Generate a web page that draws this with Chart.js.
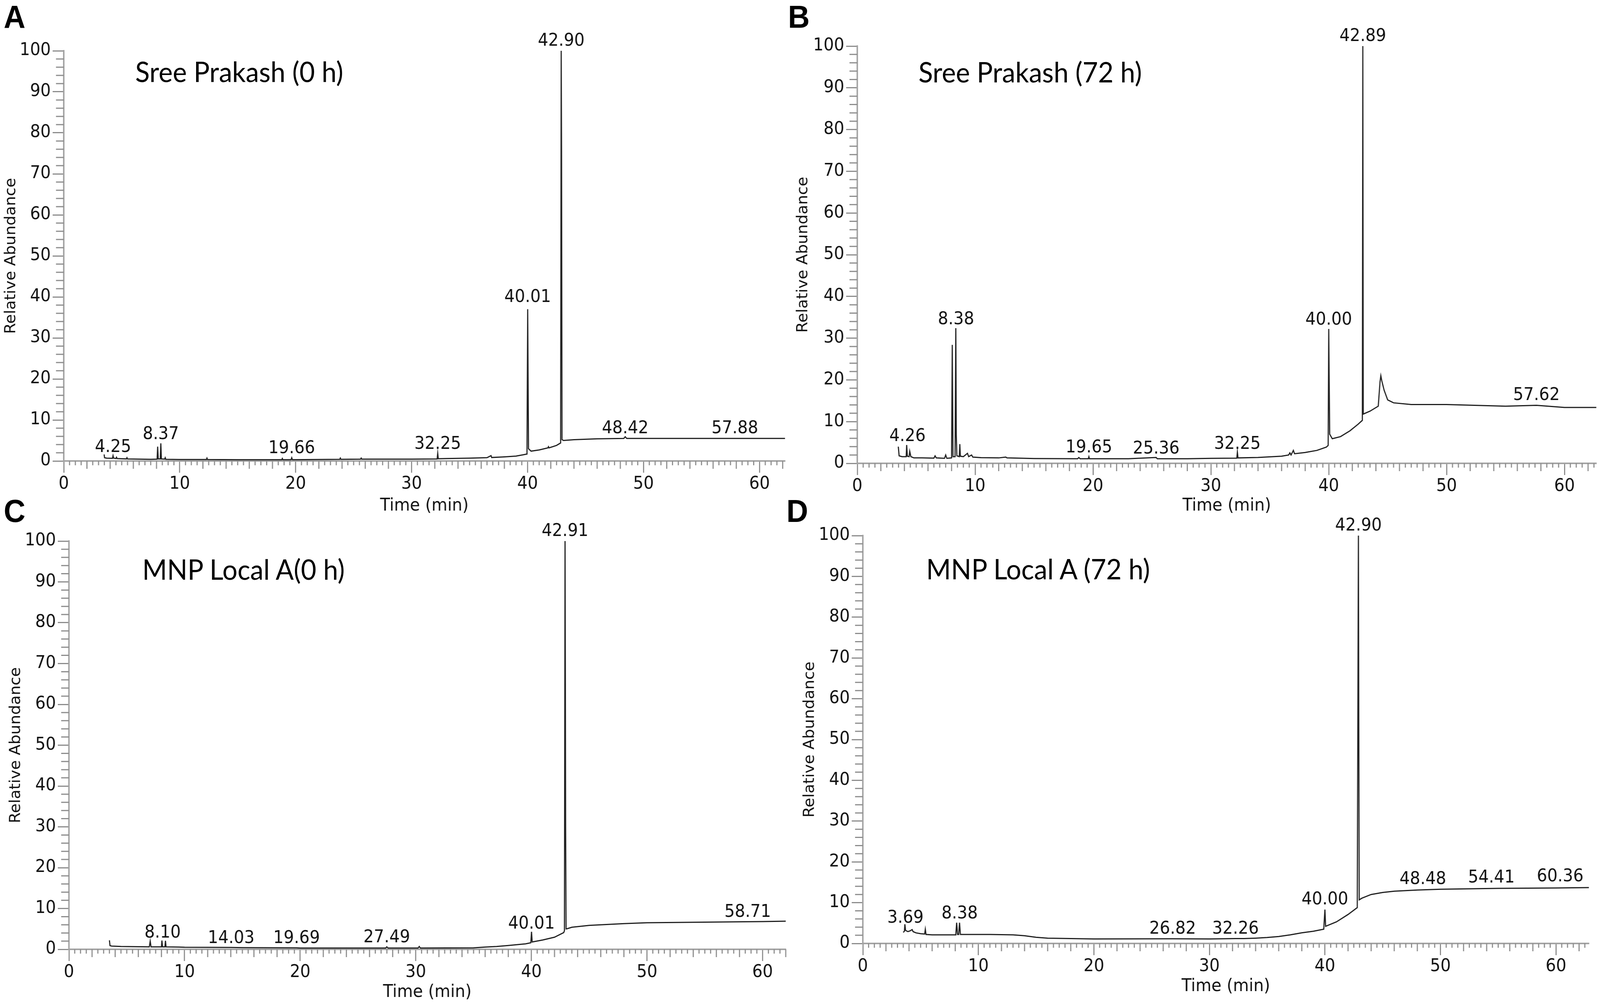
<!DOCTYPE html>
<html>
<head>
<meta charset="utf-8">
<script src="https://cdn.jsdelivr.net/npm/chart.js@4.4.0/dist/chart.umd.min.js"></script>
<style>
  html, body { margin: 0; padding: 0; background: #fff; overflow: hidden; }
  #stage { width: 4317px; height: 2570px; position: absolute; left: 0; top: 0; transform-origin: 0 0; }
  .panel { position: absolute; }
  .letter { position: absolute; font: bold 81px "Liberation Sans", Arial, sans-serif; line-height: 1; color: #000; }
  .title { position: absolute; font: 72px Lato, "Open Sans", sans-serif; line-height: 1.2; color: #000; white-space: nowrap; }
</style>
</head>
<body>
<div id="stage">
<div class="letter" style="left:10px;top:3px">A</div>
<div class="letter" style="left:2126px;top:3px">B</div>
<div class="letter" style="left:10px;top:1268px">C</div>
<div class="letter" style="left:2122px;top:1268px">D</div>

<div class="panel" id="panelA"><canvas id="chartA"></canvas></div>
<div class="panel" id="panelB"><canvas id="chartB"></canvas></div>
<div class="panel" id="panelC"><canvas id="chartC"></canvas></div>
<div class="panel" id="panelD"><canvas id="chartD"></canvas></div>

<div class="title" style="left:365px;top:139px">Sree Prakash (0 h)</div>
<div class="title" style="left:2478px;top:140px">Sree Prakash (72 h)</div>
<div class="title" style="left:384px;top:1413px">MNP Local A(0 h)</div>
<div class="title" style="left:2499px;top:1412px">MNP Local A (72 h)</div>
</div>

<script>
// 色谱数据 [时间(min), 相对丰度]
const traceA = [
  [3.48, 1.6], [3.52, 0.8], [3.7, 0.7], [4.2, 0.65], [4.25, 1.3], [4.3, 0.7], [4.5, 0.6], [4.55, 0.9],
  [4.6, 0.6], [5.0, 0.55], [5.4, 0.5], [5.45, 0.8], [5.5, 0.5], [6.5, 0.45], [7.5, 0.4], [8.05, 0.45],
  [8.1, 3.5], [8.15, 0.5], [8.32, 0.5], [8.37, 4.3], [8.42, 0.5], [8.7, 0.45], [8.75, 0.8], [8.8, 0.4],
  [10, 0.35], [12.3, 0.35], [12.35, 0.7], [12.4, 0.35], [15, 0.3], [18.8, 0.3], [18.85, 0.6], [18.9, 0.3],
  [19.6, 0.3], [19.66, 0.8], [19.72, 0.3], [23.8, 0.4], [23.85, 0.7], [23.9, 0.4], [25.6, 0.45], [25.65, 0.7],
  [25.7, 0.45], [30, 0.45], [32.2, 0.5], [32.25, 1.9], [32.3, 0.55], [33, 0.6], [35, 0.7], [36.5, 0.8],
  [36.85, 1.3], [36.9, 0.85], [38, 1.0], [39, 1.2], [39.6, 1.5], [39.95, 1.7], [40.01, 37], [40.08, 3.0],
  [40.3, 2.4], [41, 2.7], [41.75, 3.2], [41.8, 3.5], [41.85, 3.2], [42.5, 3.8], [42.85, 4.4], [42.9, 100],
  [42.93, 75], [42.97, 5.2], [43.1, 5.0], [44, 5.2], [46, 5.4], [48.3, 5.5], [48.42, 5.9], [48.55, 5.5],
  [50, 5.5], [54, 5.5], [58, 5.5], [62.2, 5.5]
];

const traceB = [
  [3.48, 4.0], [3.55, 1.8], [3.8, 1.6], [4.15, 1.6], [4.19, 4.4], [4.25, 1.7], [4.4, 1.6], [4.45, 2.9],
  [4.55, 1.6], [4.8, 1.3], [5.5, 1.3], [6.5, 1.25], [6.6, 1.8], [6.7, 1.3], [7.4, 1.2], [7.5, 2.0],
  [7.6, 1.2], [8.0, 1.3], [8.06, 28.4], [8.12, 1.6], [8.3, 1.6], [8.36, 32.4], [8.4, 6.8], [8.45, 1.8],
  [8.65, 1.6], [8.7, 4.6], [8.75, 1.7], [9.0, 1.6], [9.35, 2.4], [9.45, 1.6], [9.7, 2.0], [9.8, 1.5],
  [10.5, 1.35], [12, 1.3], [12.6, 1.5], [12.7, 1.3], [15, 1.15], [18.7, 1.1], [18.8, 1.4], [18.9, 1.1],
  [19.6, 1.1], [19.65, 1.6], [19.7, 1.1], [23, 1.1], [25.36, 1.4], [25.45, 1.1], [28, 1.1], [30, 1.2],
  [32.2, 1.25], [32.25, 2.7], [32.3, 1.3], [34, 1.4], [36, 1.7], [36.6, 2.0], [36.7, 2.5], [36.8, 2.0],
  [37.0, 3.1], [37.1, 2.3], [38, 2.6], [39, 3.1], [39.8, 3.9], [39.95, 4.3], [40.0, 32.2], [40.08, 7.0],
  [40.3, 5.9], [41, 6.4], [41.8, 7.8], [42.5, 9.4], [42.85, 10.3], [42.89, 100], [42.93, 11.8], [43.5, 12.5],
  [44.2, 13.7], [44.35, 19.5], [44.42, 21.0], [44.5, 19.8], [44.7, 17.5], [45, 15.2], [45.5, 14.5], [47, 14.1],
  [50, 14.1], [55, 13.7], [57.62, 13.9], [60, 13.4], [62.7, 13.4]
];

const traceC = [
  [3.5, 2.2], [3.55, 0.9], [3.7, 0.8], [4.5, 0.7], [6.95, 0.6], [7.03, 2.0], [7.1, 0.6], [8.0, 0.6],
  [8.04, 2.15], [8.1, 0.6], [8.3, 0.6], [8.35, 2.1], [8.4, 0.6], [9.5, 0.55], [10, 0.5], [14.03, 0.45],
  [15, 0.4], [19.69, 0.35], [20, 0.3], [27.4, 0.3], [27.49, 0.6], [27.6, 0.3], [30.2, 0.3], [30.3, 0.7],
  [30.4, 0.3], [35, 0.35], [36, 0.55], [37, 0.7], [38, 0.93], [39.5, 1.35], [39.95, 1.6], [40.01, 4.3],
  [40.07, 1.8], [41, 2.3], [42, 2.96], [42.8, 4.1], [42.86, 4.6], [42.91, 100], [42.94, 65], [42.96, 30],
  [43.0, 5.0], [43.1, 5.05], [43.5, 5.4], [45, 5.85], [48, 6.3], [50, 6.5], [55, 6.65], [60, 6.8], [62, 6.9]
];

const traceD = [
  [3.5, 2.7], [3.6, 3.0], [3.64, 4.7], [3.7, 3.2], [3.9, 2.9], [4.1, 3.1], [4.27, 3.4], [4.35, 2.9],
  [4.6, 2.6], [5.0, 2.4], [5.35, 2.3], [5.41, 3.5], [5.47, 2.2], [6, 2.1], [8.05, 2.1], [8.12, 5.1],
  [8.2, 2.2], [8.3, 2.2], [8.37, 5.1], [8.45, 2.2], [9, 2.2], [11, 2.2], [13, 2.1], [14, 1.9],
  [15, 1.5], [16, 1.3], [18, 1.2], [20, 1.1], [26.82, 1.15], [30, 1.1], [32.26, 1.2], [33, 1.2],
  [34, 1.3], [35, 1.45], [36, 1.7], [37, 2.1], [38, 2.6], [39, 3.0], [39.9, 3.5], [40.0, 8.3],
  [40.06, 4.2], [41, 5.3], [42, 7.1], [42.8, 8.8], [42.9, 100], [42.93, 55], [42.97, 10.7], [43.2, 11.1],
  [44, 12.0], [45, 12.5], [46, 12.8], [48, 13.1], [50, 13.3], [55, 13.5], [60, 13.6], [62.85, 13.7]
];

// 峰标注: 保留时间 与 标注底部所在的丰度
const peakTimesA = [4.25, 8.37, 19.66, 32.25, 40.01, 42.90, 48.42, 57.88];
const labelHeightsA = [2.2, 5.3, 1.9, 3.0, 38.8, 101.2, 6.8, 6.8];
const peakTimesB = [4.26, 8.38, 19.65, 25.36, 32.25, 40.00, 42.89, 57.62];
const labelHeightsB = [5.3, 33.3, 2.65, 2.3, 3.5, 33.2, 101.2, 15.2];
const peakTimesC = [8.10, 14.03, 19.69, 27.49, 40.01, 42.91, 58.71];
const labelHeightsC = [2.9, 1.5, 1.5, 1.7, 5.05, 101.2, 7.9];
const peakTimesD = [3.69, 8.38, 26.82, 32.26, 40.00, 42.90, 48.48, 54.41, 60.36];
const labelHeightsD = [5.1, 6.1, 2.4, 2.4, 9.6, 101.2, 14.6, 14.9, 15.2];

// 坐标轴范围
const yTicks = { min: 0, max: 100, step: 10 };
const xMaxA = 62.2, xMaxB = 62.7, xMaxC = 62.0, xMaxD = 62.85;

const tickGray = '#8c8c8c';
const axisGray = '#a3a3a3';
const textFont = '"DejaVu Sans", "Liberation Sans", sans-serif';

// 页面缩放到实际窗口
function fitStage() {
    const sx = window.innerWidth / 4317;
    const sy = window.innerHeight / 2570;
    document.getElementById('stage').style.transform = 'scale(' + sx + ',' + sy + ')';
}

// 次刻度
const minorTicks = {
    id: 'minorTicks',
    afterDraw(chart) {
        const { ctx, scales: { x, y } } = chart;
        ctx.save();
        ctx.strokeStyle = tickGray;
        ctx.lineWidth = 3;
        ctx.beginPath();
        for (let i = 1; i <= Math.floor(x.max * 2); i++) {
            if (i % 20 === 0) continue;
            const px = x.getPixelForValue(i / 2);
            const len = i % 4 === 0 ? 20 : 11;
            ctx.moveTo(px, x.top);
            ctx.lineTo(px, x.top + len);
        }
        for (let v = 2; v < 100; v += 2) {
            if (v % 10 === 0) continue;
            const py = y.getPixelForValue(v);
            ctx.moveTo(y.right, py);
            ctx.lineTo(y.right - 21, py);
        }
        ctx.stroke();
        ctx.restore();
    }
};

// 峰标注
function makePeakLabels(times, heights) {
    return {
        id: 'peakLabels',
        afterDatasetsDraw(chart) {
            const { ctx, scales: { x, y } } = chart;
            ctx.save();
            ctx.font = '44px ' + textFont;
            ctx.fillStyle = '#111';
            ctx.textAlign = 'center';
            ctx.textBaseline = 'alphabetic';
            times.forEach((t, i) => {
                ctx.fillText(t.toFixed(2), x.getPixelForValue(t), y.getPixelForValue(heights[i]));
            });
            ctx.restore();
        }
    };
}

function drawPanel(p) {
    const box = document.getElementById('panel' + p.id);
    box.style.left = p.left + 'px';
    box.style.top = p.top + 'px';
    box.style.width = p.width + 'px';
    box.style.height = p.height + 'px';

    const tickFont = { family: textFont, size: 44 };
    const grid = { drawOnChartArea: false, drawTicks: true, tickLength: 30, tickColor: tickGray, tickWidth: 3 };
    const border = { display: true, color: axisGray, width: 4 };

    new Chart(document.getElementById('chart' + p.id), {
        type: 'line',
        data: {
            datasets: [{
                data: p.trace.map(([x, y]) => ({ x, y })),
                borderColor: '#1f1f1f',
                borderWidth: 3,
                pointRadius: 0,
                tension: 0,
                fill: false
            }]
        },
        options: {
            responsive: true,
            maintainAspectRatio: false,
            animation: false,
            devicePixelRatio: 1,
            layout: {
                padding: { top: p.plotTop - p.top, right: p.left + p.width - p.plotRight, left: 0, bottom: 0 }
            },
            plugins: { legend: { display: false }, tooltip: { enabled: false } },
            scales: {
                x: {
                    type: 'linear',
                    min: 0,
                    max: p.xMax,
                    afterFit: s => { s.height = p.top + p.height - p.plotBottom; },
                    ticks: {
                        stepSize: 10, includeBounds: false, autoSkip: false, maxRotation: 0,
                        padding: 3, color: '#111', font: tickFont,
                        callback: v => (v % 10 === 0 ? v : '')
                    },
                    grid: grid,
                    border: border,
                    title: {
                        display: true, text: 'Time (min)', color: '#111',
                        font: { family: textFont, size: 44 },
                        padding: { top: 0, bottom: p.xTitlePad }
                    }
                },
                y: {
                    min: yTicks.min,
                    max: yTicks.max,
                    afterFit: s => { s.width = p.plotLeft - p.left; },
                    ticks: { stepSize: yTicks.step, padding: 5, color: '#111', font: tickFont },
                    grid: grid,
                    border: border,
                    title: {
                        display: true, text: 'Relative Abundance', color: '#111',
                        font: { family: textFont, size: 40 },
                        padding: { top: p.yTitlePad, bottom: 0 }
                    }
                }
            }
        },
        plugins: [minorTicks, makePeakLabels(p.times, p.heights)]
    });
}

// 页面加载完成后初始化
document.addEventListener('DOMContentLoaded', function () {
    fitStage();
    drawPanel({ id: 'A', left: 0, top: 0, width: 2140, height: 1330,
        plotLeft: 172, plotTop: 130, plotRight: 2118, plotBottom: 1180,
        xMax: xMaxA, xTitlePad: 8, yTitlePad: 7,
        trace: traceA, times: peakTimesA, heights: labelHeightsA });
    drawPanel({ id: 'B', left: 2140, top: 0, width: 2177, height: 1330,
        plotLeft: 2313, plotTop: 118, plotRight: 4307, plotBottom: 1186,
        xMax: xMaxB, xTitlePad: 8, yTitlePad: 4,
        trace: traceB, times: peakTimesB, heights: labelHeightsB });
    drawPanel({ id: 'C', left: 0, top: 1290, width: 2140, height: 1280,
        plotLeft: 186, plotTop: 1385, plotRight: 2120, plotBottom: 2430,
        xMax: xMaxC, xTitlePad: 3, yTitlePad: 20,
        trace: traceC, times: peakTimesC, heights: labelHeightsC });
    drawPanel({ id: 'D', left: 2140, top: 1290, width: 2177, height: 1280,
        plotLeft: 2328, plotTop: 1371, plotRight: 4287, plotBottom: 2415,
        xMax: xMaxD, xTitlePad: 18, yTitlePad: 22,
        trace: traceD, times: peakTimesD, heights: labelHeightsD });
});
</script>
</body>
</html>
